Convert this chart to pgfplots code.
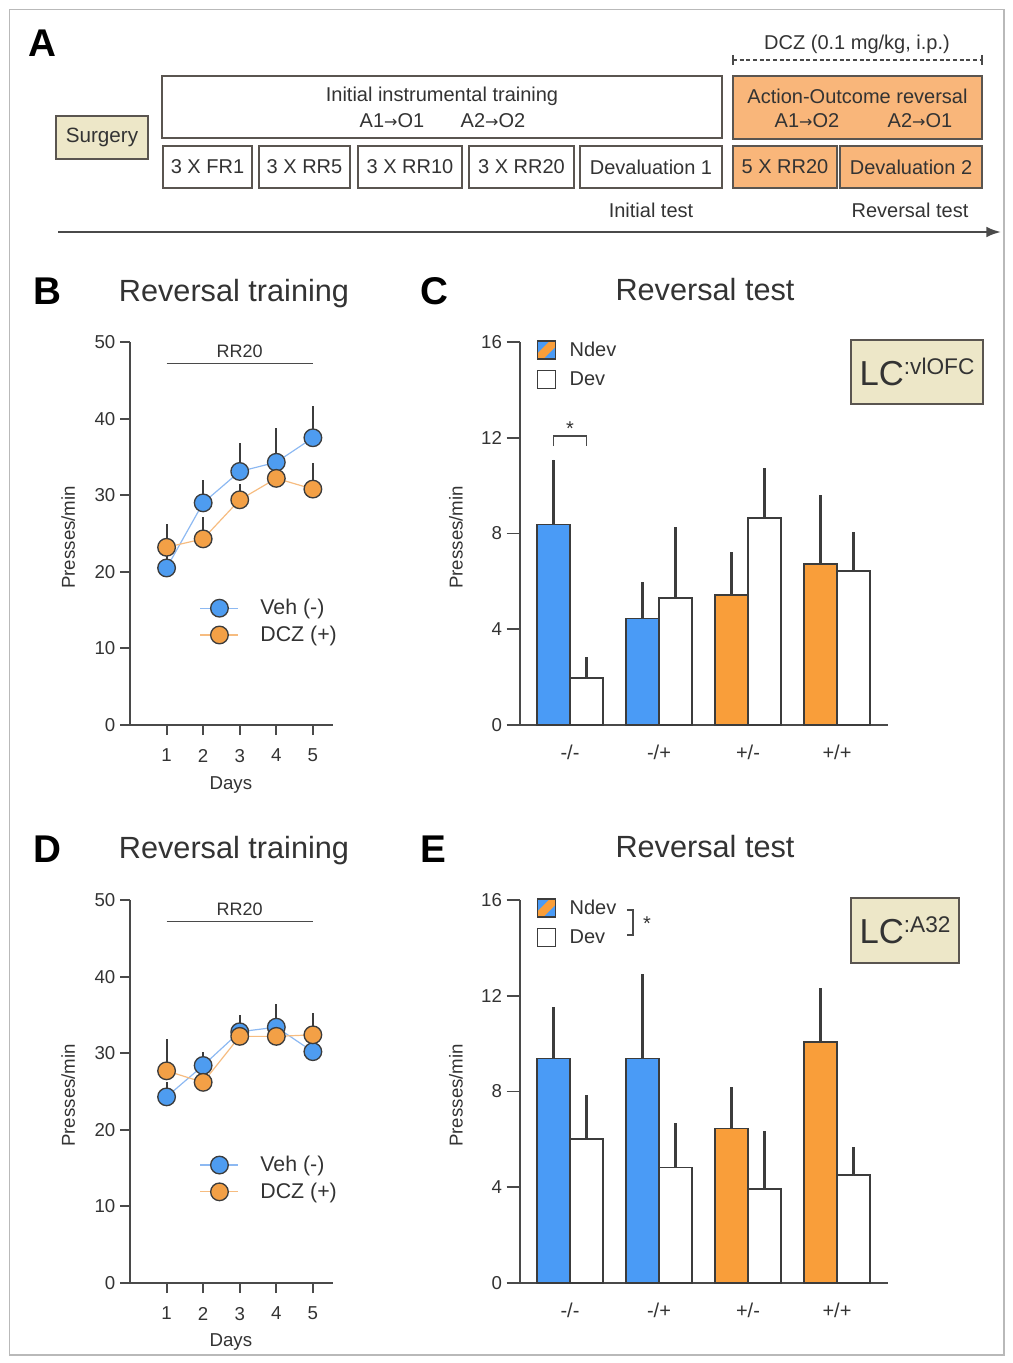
\documentclass[border=0pt]{standalone}
\usepackage{fontspec}
\setmainfont{Liberation Sans}
\newfontfamily\dejavu{DejaVu Sans}
\usepackage{pgfplots}
\usepackage{pgfplotstable}
\pgfplotsset{compat=1.18}
\usetikzlibrary{arrows.meta}

\definecolor{txt}{HTML}{333333}
\definecolor{axg}{HTML}{4A4A4A}
\definecolor{edge}{HTML}{3C3C3C}
\definecolor{bfill}{HTML}{4A9BF6}
\definecolor{ofill}{HTML}{F99E3A}
\definecolor{mblue}{HTML}{4E9CF0}
\definecolor{morange}{HTML}{F3A046}
\definecolor{lblue}{HTML}{8DB9F2}
\definecolor{lorange}{HTML}{F6BC80}
\definecolor{beige}{HTML}{EDE7C8}
\definecolor{boxor}{HTML}{F9B67A}
\definecolor{boxedge}{HTML}{5A5550}

\newcommand{\fs}[1]{\fontsize{#1}{#1}\selectfont}
\newcommand{\ar}{{\dejavu\fontsize{12}{12}\selectfont →}}

\pgfplotsset{
  gp/.style={
    scale only axis, anchor=south west, clip=false,
    axis x line*=bottom, axis y line*=left,
    axis line style={line width=1.4pt, draw=axg},
    tick style={line width=1.4pt, draw=axg},
    tick align=outside, major tick length=7.5pt,
    tick label style={font=\fs{14}, text=txt},
    /pgf/number format/assume math mode=true,
    every axis label/.append style={font=\fs{14}, text=txt},
  },
  linelegend/.style={
    legend style={draw=none, fill=none, inner sep=0pt, outer sep=0pt, font=\fs{16}, text=txt, row sep=3pt, column sep=14pt, cells={anchor=west}},
    legend image code/.code={\draw[##1] (0pt,0pt) -- (28.5pt,0pt); \draw[##1] plot coordinates {(14.25pt,0pt)};},
  },
  barlegend/.style={
    legend style={draw=none, fill=none, inner sep=0pt, outer sep=0pt, font=\fs{15}, text=txt, row sep=6pt, column sep=8pt, cells={anchor=west}},
  },
  eb/.style={error bars/y dir=plus, error bars/y explicit, error bars/error mark=none,
    error bars/error bar style={line width=1.6pt, draw=edge}},
  ebonly/.style={draw=none, mark=none, forget plot, eb},
  vehplot/.style={draw=lblue, line width=0.9pt, mark=*, mark size=6.6pt,
    mark options={fill=mblue, draw=edge, line width=1pt}},
  dczplot/.style={draw=lorange, line width=0.9pt, mark=*, mark size=6.6pt,
    mark options={fill=morange, draw=edge, line width=1pt}},
  barp/.style={ybar, bar width=0.371, bar shift=0, draw=edge, line width=1.3pt, forget plot, eb},
}

\newcommand{\ndevimg}{\addlegendimage{legend image code/.code={%
  \fill[bfill] (0pt,-6.75pt) rectangle (13.5pt,6.75pt);
  \fill[ofill] (0pt,-6.75pt) -- (4pt,-6.75pt) -- (13.5pt,2.75pt) -- (13.5pt,6.75pt) -- (9.5pt,6.75pt) -- (0pt,-2.75pt) -- cycle;
  \draw[edge, line width=1pt] (0pt,-6.75pt) rectangle (13.5pt,6.75pt);}}}
\newcommand{\devimg}{\addlegendimage{legend image code/.code={%
  \draw[edge, line width=1pt, fill=white] (0pt,-6.75pt) rectangle (13.5pt,6.75pt);}}}

% data
\pgfplotstableread{
d m e
1 20.5 2.0
2 29.0 3.0
3 33.1 3.7
4 34.3 4.5
5 37.5 4.1
}\Bveh
\pgfplotstableread{
d m e
1 23.2 3.1
2 24.3 2.9
3 29.4 2.0
4 32.2 2.0
5 30.8 3.4
}\Bdcz
\pgfplotstableread{
d m e
1 24.3 2.0
2 28.4 1.8
3 32.8 2.2
4 33.4 3.0
5 30.2 2.0
}\Dveh
\pgfplotstableread{
d m e
1 27.7 4.1
2 26.2 1.8
3 32.2 1.5
4 32.2 1.5
5 32.4 2.9
}\Ddcz

\begin{document}
\begin{tikzpicture}
\begin{scope}[x=0.75pt,y=-0.75pt]
\path (0,0) rectangle (1013,1363);
\draw[gray!55, line width=0.8pt] (9.5,9.5) rectangle (1004,1355);
% Panel A
\node[font=\bfseries\fs{29}, anchor=base] at (42.5,57) {A};
\tikzset{abox/.style={draw=boxedge, line width=1.4pt}, atx/.style={font=\fs{15}, text=txt}}
\draw[abox, fill=beige] (56,116) rectangle (148,159);
\node[font=\fs{15.5}, text=txt] at (102,137.5) {Surgery};
\draw[abox, fill=white] (162,76) rectangle (722,138);
\node[atx] at (442,96) {Initial instrumental training};
\node[atx] at (392,121) {A1\ar O1};
\node[atx] at (493,121) {A2\ar O2};
\draw[abox, fill=white] (163,146) rectangle (252,188); \node[atx] at (207.5,167) {3 X FR1};
\draw[abox, fill=white] (259,146) rectangle (350,188); \node[atx] at (304.5,167) {3 X RR5};
\draw[abox, fill=white] (358,146) rectangle (462,188); \node[atx] at (410,167) {3 X RR10};
\draw[abox, fill=white] (469,146) rectangle (574,188); \node[atx] at (521.5,167) {3 X RR20};
\draw[abox, fill=white] (580,146) rectangle (722,188); \node[atx] at (651,167) {Devaluation 1};
\draw[abox, fill=boxor] (733,76) rectangle (982,139);
\node[atx] at (857.5,96) {Action-Outcome reversal};
\node[atx] at (807,121) {A1\ar O2};
\node[atx] at (920,121) {A2\ar O1};
\draw[abox, fill=boxor] (733,146) rectangle (837,188); \node[atx] at (785,167) {5 X RR20};
\draw[abox, fill=boxor] (840,146) rectangle (982,188); \node[atx] at (911,167) {Devaluation 2};
\node[atx] at (857,44) {DCZ (0.1 mg/kg, i.p.)};
\draw[axg, line width=1pt, dash pattern=on 3pt off 2pt] (733,60) -- (982,60);
\draw[axg, line width=1pt] (733,55) -- (733,65) (982,55) -- (982,65);
\node[atx] at (651,210) {Initial test};
\node[atx] at (910,210) {Reversal test};
\draw[axg, line width=1.6pt, -{Latex[length=11pt,width=8pt]}] (58,232) -- (1001,232);
% titles and panel letters
\node[font=\bfseries\fs{29}, anchor=base] at (47.5,304) {B};
\node[font=\fs{23}, text=txt, anchor=base] at (234,301) {Reversal training};
\node[font=\bfseries\fs{29}, anchor=base] at (434,304) {C};
\node[font=\fs{23}, text=txt, anchor=base] at (705,300) {Reversal test};
\node[font=\bfseries\fs{29}, anchor=base] at (47.5,862) {D};
\node[font=\fs{23}, text=txt, anchor=base] at (234,858) {Reversal training};
\node[font=\bfseries\fs{29}, anchor=base] at (433,862) {E};
\node[font=\fs{23}, text=txt, anchor=base] at (705,857) {Reversal test};
% LC boxes
\node[draw=boxedge, line width=1.4pt, fill=beige, minimum width=99pt, minimum height=48pt, inner sep=0pt, text=txt] at (917,372)
  {\fs{26}LC\raisebox{8pt}{\fs{17}:vlOFC}};
\node[draw=boxedge, line width=1.4pt, fill=beige, minimum width=81pt, minimum height=48.75pt, inner sep=0pt, text=txt] at (905,930.5)
  {\fs{26}LC\raisebox{8pt}{\fs{17}:A32}};
\end{scope}

% Panel B
\begin{axis}[gp, linelegend, at={(97.5pt,-543.75pt)}, width=152.25pt, height=287.25pt,
  xmin=0, xmax=5.55, ymin=0, ymax=50, xtick={1,2,3,4,5}, ytick={0,10,20,30,40,50},
  xticklabel style={yshift=-7pt},
  xlabel={Days}, ylabel={Presses/min},
  xlabel style={at={(axis description cs:0.497,-0.157)}, anchor=center},
  ylabel style={at={(axis description cs:-0.305,0.49)}, anchor=center},
  legend style={at={(axis cs:1.91,13.5)}, anchor=west},
]
\draw[line width=1.3pt, draw=axg] (axis cs:1,47.2) -- (axis cs:5,47.2);
\node[font=\fs{13.5}, text=txt] at (axis cs:3,48.8) {RR20};
\addplot[ebonly] table[x=d, y=m, y error plus=e] {\Bveh};
\addplot[ebonly] table[x=d, y=m, y error plus=e] {\Bdcz};
\addplot[vehplot] table[x=d, y=m] {\Bveh};
\addlegendentry{Veh (-)}
\addplot[dczplot] table[x=d, y=m] {\Bdcz};
\addlegendentry{DCZ (+)}
\end{axis}

% Panel D
\begin{axis}[gp, linelegend, at={(97.5pt,-962.25pt)}, width=152.25pt, height=287.25pt,
  xmin=0, xmax=5.55, ymin=0, ymax=50, xtick={1,2,3,4,5}, ytick={0,10,20,30,40,50},
  xticklabel style={yshift=-7pt},
  xlabel={Days}, ylabel={Presses/min},
  xlabel style={at={(axis description cs:0.497,-0.155)}, anchor=center},
  ylabel style={at={(axis description cs:-0.305,0.49)}, anchor=center},
  legend style={at={(axis cs:1.91,13.65)}, anchor=west},
]
\draw[line width=1.3pt, draw=axg] (axis cs:1,47.2) -- (axis cs:5,47.2);
\node[font=\fs{13.5}, text=txt] at (axis cs:3,48.8) {RR20};
\addplot[ebonly] table[x=d, y=m, y error plus=e] {\Dveh};
\addplot[ebonly] table[x=d, y=m, y error plus=e] {\Ddcz};
\addplot[vehplot] table[x=d, y=m] {\Dveh};
\addlegendentry{Veh (-)}
\addplot[dczplot] table[x=d, y=m] {\Ddcz};
\addlegendentry{DCZ (+)}
\end{axis}

% Panel C
\begin{axis}[gp, barlegend, at={(390pt,-543.75pt)}, width=276pt, height=287.25pt,
  xmin=0.4382, xmax=4.573, ymin=0, ymax=16, ytick={0,4,8,12,16},
  major tick length=10pt,
  xtick={1,2,3,4}, xticklabels={-/-,-/+,+/-,+/+}, xtick style={draw=none},
  xticklabel style={font=\fs{15}, yshift=-1.5pt},
  ylabel={Presses/min},
  ylabel style={at={(axis description cs:-0.174,0.49)}, anchor=center},
  legend style={at={(axis cs:0.629,15.06)}, anchor=west},
]
% Ndev blue, x = group - 0.1855
\addplot[fill=bfill, barp] table[x=g, y=m, y error plus=e] {
g m e
0.8145 8.38 2.71
1.8145 4.45 1.51
};
\addplot[fill=ofill, barp] table[x=g, y=m, y error plus=e] {
g m e
2.8145 5.43 1.78
3.8145 6.74 2.87
};
% Dev, x = group + 0.1855
\addplot[fill=white, barp] table[x=g, y=m, y error plus=e] {
g m e
1.1855 1.96 0.88
2.1855 5.32 2.95
3.1855 8.66 2.08
4.1855 6.44 1.63
};
\ndevimg \addlegendentry{Ndev}
\devimg \addlegendentry{Dev}
\draw[line width=1.2pt, draw=axg] (axis cs:0.8145,11.65) -- (axis cs:0.8145,12.07) -- (axis cs:1.1855,12.07) -- (axis cs:1.1855,11.65);
\node[font=\fs{15}, text=txt] at (axis cs:1,12.4) {*};
\end{axis}

% Panel E
\begin{axis}[gp, barlegend, at={(390pt,-962.25pt)}, width=276pt, height=287.25pt,
  xmin=0.4382, xmax=4.573, ymin=0, ymax=16, ytick={0,4,8,12,16},
  major tick length=10pt,
  xtick={1,2,3,4}, xticklabels={-/-,-/+,+/-,+/+}, xtick style={draw=none},
  xticklabel style={font=\fs{15}, yshift=-1.5pt},
  ylabel={Presses/min},
  ylabel style={at={(axis description cs:-0.174,0.49)}, anchor=center},
  legend style={at={(axis cs:0.629,15.06)}, anchor=west},
]
\addplot[fill=bfill, barp] table[x=g, y=m, y error plus=e] {
g m e
0.8145 9.38 2.15
1.8145 9.38 3.52
};
\addplot[fill=ofill, barp] table[x=g, y=m, y error plus=e] {
g m e
2.8145 6.46 1.71
3.8145 10.06 2.26
};
\addplot[fill=white, barp] table[x=g, y=m, y error plus=e] {
g m e
1.1855 6.02 1.84
2.1855 4.83 1.86
3.1855 3.94 2.43
4.1855 4.50 1.19
};
\ndevimg \addlegendentry{Ndev}
\devimg \addlegendentry{Dev}
\draw[line width=1.2pt, draw=axg] (axis cs:1.640,15.58) -- (axis cs:1.708,15.58) -- (axis cs:1.708,14.54) -- (axis cs:1.640,14.54);
\node[font=\fs{15}, text=txt] at (axis cs:1.865,15.0) {*};
\end{axis}
\end{tikzpicture}
\end{document}
